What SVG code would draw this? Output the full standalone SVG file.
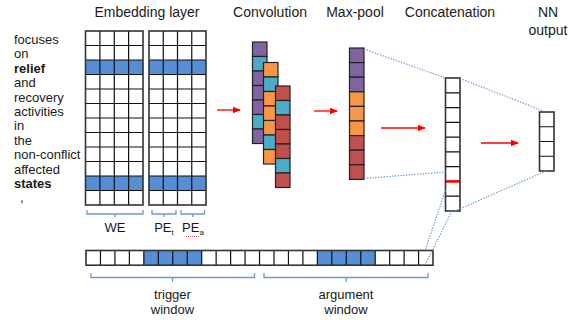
<svg xmlns="http://www.w3.org/2000/svg" width="582" height="320" viewBox="0 0 582 320">
<style>
text{font-family:"Liberation Sans",Arial,sans-serif;fill:#1a1a1a}
.h{font-size:14px;text-anchor:middle}
.w{font-size:13px}
.b{font-weight:bold}
.s{font-size:13px;text-anchor:middle}
.grid{fill:none;stroke:#111;stroke-width:1.2}
.frame{fill:none;stroke:#333;stroke-width:1.6}
.blue{fill:#558ED5}
.cv{stroke:#222;stroke-width:1.2}
.P{fill:#8064A2}.T{fill:#4BACC6}.O{fill:#F79646}.R{fill:#C0504D}
.br{fill:none;stroke:#6C9BD2;stroke-width:1.3}
.dot{fill:none;stroke:#6C9BD2;stroke-width:1.2;stroke-dasharray:1.4 1.4}
.arr{stroke:#FF0000;stroke-width:1.3}
</style>
<defs>
<marker id="ah" markerWidth="8" markerHeight="8" refX="7" refY="4" orient="auto" markerUnits="userSpaceOnUse">
<path d="M0,0.8 L8,4 L0,7.2 Z" fill="#FF0000"/>
</marker>
</defs>

<g id="labels">
<text class="h" x="147" y="17">Embedding layer</text>
<text class="h" x="270" y="17">Convolution</text>
<text class="h" x="355" y="17">Max-pool</text>
<text class="h" x="450" y="17">Concatenation</text>
<text class="h" x="548" y="17">NN</text>
<text class="h" x="548" y="35">output</text>
</g>

<g id="sentence">
<text class="w" x="14" y="44">focuses</text>
<text class="w" x="14" y="58.4">on</text>
<text class="w b" x="14" y="72.8">relief</text>
<text class="w" x="14" y="87.2">and</text>
<text class="w" x="14" y="101.6">recovery</text>
<text class="w" x="14" y="116">activities</text>
<text class="w" x="14" y="130.4">in</text>
<text class="w" x="14" y="144.8">the</text>
<text class="w" x="14" y="159.2">non-conflict</text>
<text class="w" x="14" y="173.6">affected</text>
<text class="w b" x="14" y="188">states</text>
<text class="w" x="20" y="202.4">,</text>
</g>

<g id="embedding-we">
<rect x="85.5" y="31" width="57.5" height="174" fill="#fff"/>
<rect class="blue" x="85.5" y="60" width="57.5" height="14.5"/>
<rect class="blue" x="85.5" y="176" width="57.5" height="14.5"/>
<path class="grid" d="M99.9 31V205M114.3 31V205M128.6 31V205M85.5 45.5H143M85.5 60H143M85.5 74.5H143M85.5 89H143M85.5 103.5H143M85.5 118H143M85.5 132.5H143M85.5 147H143M85.5 161.5H143M85.5 176H143M85.5 190.5H143"/>
<rect class="frame" x="85.5" y="31" width="57.5" height="174"/>
</g>

<g id="embedding-pe">
<rect x="149" y="31" width="57" height="174" fill="#fff"/>
<rect class="blue" x="149" y="60" width="57" height="14.5"/>
<rect class="blue" x="149" y="176" width="57" height="14.5"/>
<path class="grid" d="M163.25 31V205M177.5 31V205M191.75 31V205M149 45.5H206M149 60H206M149 74.5H206M149 89H206M149 103.5H206M149 118H206M149 132.5H206M149 147H206M149 161.5H206M149 176H206M149 190.5H206"/>
<rect class="frame" x="149" y="31" width="57" height="174"/>
</g>

<g id="embedding-braces">
<path class="br" d="M87 210V214H143V210M115 214V217"/>
<path class="br" d="M152 210V214H176V210M164 214V217"/>
<path class="br" d="M181 210V214H204.5V210M192.8 214V217"/>
<text class="s" x="115" y="232">WE</text>
<text class="s" x="164" y="232">PE<tspan font-size="8" dy="3">t</tspan></text>
<text class="s" x="193" y="232">PE<tspan font-size="8" dy="3">a</tspan></text>
<path d="M186 236.5h14" stroke="#E04040" stroke-width="0.9" stroke-dasharray="1 1" fill="none"/>
</g>

<g id="convolution">
<g class="cv">
<rect class="P" x="252.5" y="42" width="14.5" height="14.5"/>
<rect class="T" x="252.5" y="56.5" width="14.5" height="14.5"/>
<rect class="P" x="252.5" y="71" width="14.5" height="14.5"/>
<rect class="P" x="252.5" y="85.5" width="14.5" height="14.5"/>
<rect class="P" x="252.5" y="100" width="14.5" height="14.5"/>
<rect class="T" x="252.5" y="114.5" width="14.5" height="14.5"/>
<rect class="P" x="252.5" y="129" width="14.5" height="14.5"/>
</g>
<g class="cv">
<rect class="O" x="263.5" y="62.5" width="14.5" height="14.5"/>
<rect class="T" x="263.5" y="77" width="14.5" height="14.5"/>
<rect class="O" x="263.5" y="91.5" width="14.5" height="14.5"/>
<rect class="O" x="263.5" y="106" width="14.5" height="14.5"/>
<rect class="O" x="263.5" y="120.5" width="14.5" height="14.5"/>
<rect class="T" x="263.5" y="135" width="14.5" height="14.5"/>
<rect class="O" x="263.5" y="149.5" width="14.5" height="14.5"/>
</g>
<g class="cv">
<rect class="R" x="275.5" y="86" width="14.5" height="14.5"/>
<rect class="T" x="275.5" y="100.5" width="14.5" height="14.5"/>
<rect class="R" x="275.5" y="115" width="14.5" height="14.5"/>
<rect class="R" x="275.5" y="129.5" width="14.5" height="14.5"/>
<rect class="R" x="275.5" y="144" width="14.5" height="14.5"/>
<rect class="T" x="275.5" y="158.5" width="14.5" height="14.5"/>
<rect class="R" x="275.5" y="173" width="14.5" height="14.5"/>
</g>
</g>

<g id="maxpool" class="cv">
<rect class="P" x="349.5" y="48" width="14.5" height="14.6"/>
<rect class="P" x="349.5" y="62.6" width="14.5" height="14.6"/>
<rect class="P" x="349.5" y="77.2" width="14.5" height="14.6"/>
<rect class="O" x="349.5" y="91.8" width="14.5" height="14.6"/>
<rect class="O" x="349.5" y="106.4" width="14.5" height="14.6"/>
<rect class="O" x="349.5" y="121" width="14.5" height="14.6"/>
<rect class="R" x="349.5" y="135.6" width="14.5" height="14.6"/>
<rect class="R" x="349.5" y="150.2" width="14.5" height="14.6"/>
<rect class="R" x="349.5" y="164.8" width="14.5" height="14.6"/>
</g>

<g id="concatenation">
<rect x="445.5" y="78" width="14.5" height="133" fill="#fff"/>
<path class="grid" d="M445.5 92.8H460M445.5 107.6H460M445.5 122.3H460M445.5 137.1H460M445.5 151.9H460M445.5 166.7H460M445.5 196.2H460"/>
<path d="M445.5 181.4H460" stroke="#FF0000" stroke-width="2.6"/>
<rect class="frame" x="445.5" y="78" width="14.5" height="133" stroke="#555"/>
</g>

<g id="nn-output">
<rect x="539.5" y="112" width="14.5" height="59" fill="#fff"/>
<path class="grid" d="M539.5 126.75H554M539.5 141.5H554M539.5 156.25H554"/>
<rect class="frame" x="539.5" y="112" width="14.5" height="59"/>
</g>

<g id="window-strip">
<rect x="86" y="250.5" width="347" height="14.7" fill="#fff"/>
<rect class="blue" x="143.8" y="250.5" width="57.8" height="14.7"/>
<rect class="blue" x="317.4" y="250.5" width="57.8" height="14.7"/>
<path class="grid" d="M100.46 250.5v14.7M114.92 250.5v14.7M129.38 250.5v14.7M143.84 250.5v14.7M158.3 250.5v14.7M172.76 250.5v14.7M187.22 250.5v14.7M201.68 250.5v14.7M216.14 250.5v14.7M230.6 250.5v14.7M245.06 250.5v14.7M259.52 250.5v14.7M273.98 250.5v14.7M288.44 250.5v14.7M302.9 250.5v14.7M317.36 250.5v14.7M331.82 250.5v14.7M346.28 250.5v14.7M360.74 250.5v14.7M375.2 250.5v14.7M389.66 250.5v14.7M404.12 250.5v14.7M418.58 250.5v14.7"/>
<rect class="frame" x="86" y="250.5" width="347" height="14.7"/>
</g>

<g id="window-braces">
<path class="br" d="M91 273V277.5H254.5V273M172.5 277.5V282"/>
<path class="br" d="M264 273V277.5H428V273M346 277.5V282"/>
<text class="s" x="172.5" y="299">trigger</text>
<text class="s" x="172.5" y="314">window</text>
<text class="s" x="346" y="299">argument</text>
<text class="s" x="346" y="314">window</text>
</g>

<g id="connectors">
<line class="arr" x1="217" y1="110" x2="240" y2="110" marker-end="url(#ah)"/>
<line class="arr" x1="314" y1="111" x2="337" y2="111" marker-end="url(#ah)"/>
<line class="arr" x1="381" y1="128" x2="425" y2="128" marker-end="url(#ah)"/>
<line class="arr" x1="481" y1="143" x2="518" y2="143" marker-end="url(#ah)"/>
<path class="dot" d="M364 49L445.5 78"/>
<path class="dot" d="M364 178.5L445.5 172"/>
<path class="dot" d="M460 78.5L546 112"/>
<path class="dot" d="M455 211L546 171"/>
<path class="dot" d="M445.5 190L425 251"/>
<path class="dot" d="M452 211L425 265"/>
</g>
</svg>
